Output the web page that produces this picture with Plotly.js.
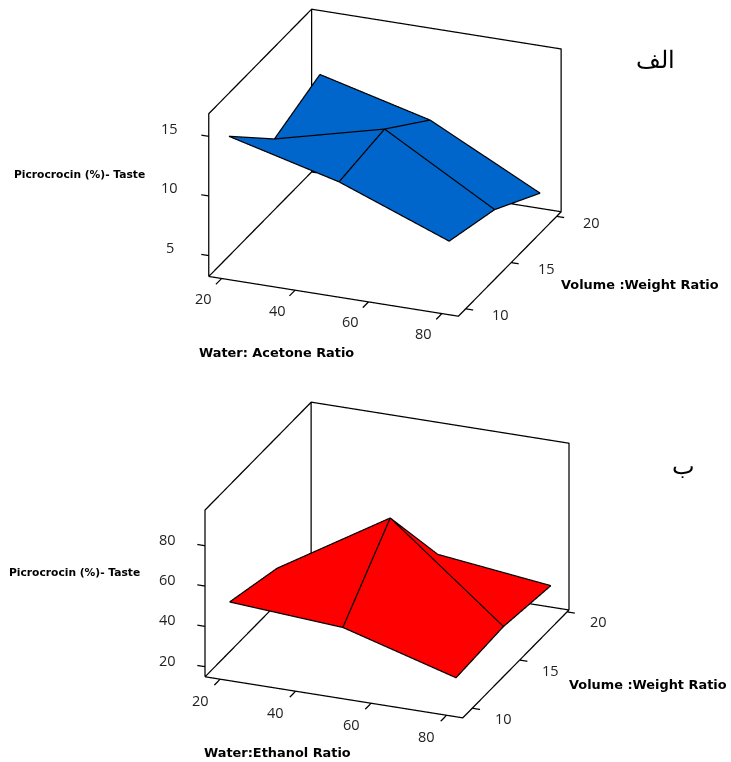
<!DOCTYPE html>
<html><head><meta charset="utf-8">
<script src="https://cdn.plot.ly/plotly-3.0.1.min.js"></script>
<style>html,body{margin:0;padding:0;background:#fff}#c{width:731px;height:762px}</style>
</head><body><div id="c"></div>
<script>
const ratioLevels=[20,50,80];
const volumeLevels=[10,15,20];
const acetoneTaste=[[14.5,12.15,8.65],[10.4,12.7,7.42],[11.93,9.58,4.92]];
const ethanolTaste=[[48.2,44.5,28.5],[41,74.9,30],[20,33,26.4]];
const xRange1=[16.5,84.5], yRange1=[9.2,20.5], zRange1=[3.25,16.9];
const xRange2=[16,84.3], yRange2=[9,20.2], zRange2=[15,97.7];
const xTicks=[20,40,60,80], yTicks=[10,15,20], zTicks1=[5,10,15], zTicks2=[20,40,60,80];

const LW=2.5;
function seg(scene,x,y,z){return {type:'scatter3d',mode:'lines',scene,showlegend:false,hoverinfo:'skip',line:{color:'#000',width:LW},x,y,z};}
function pad(r,p){const d=(r[1]-r[0])*p;return [r[0]-d,r[1]+d];}
function gridLines(z,zr,scene){
  const lift=(zr[1]-zr[0])*0.004, out=[];
  for(let j=0;j<3;j++) out.push(seg(scene,ratioLevels,volumeLevels.map(()=>volumeLevels[j]),z[j].map(v=>v+lift)));
  for(let i=0;i<3;i++) out.push(seg(scene,ratioLevels.map(()=>ratioLevels[i]),volumeLevels,z.map(r=>r[i]+lift)));
  return out;
}
function boxEdges(xr,yr,zr,scene){
  const [x0,x1]=xr,[y0,y1]=yr,[z0,z1]=zr;
  return [
    seg(scene,[x0,x1,x1,x0,x0],[y0,y0,y1,y1,y0],[z0,z0,z0,z0,z0]),
    seg(scene,[x0,x0,x0,x1,x1],[y0,y0,y1,y1,y1],[z0,z1,z1,z1,z0]),
    seg(scene,[x0,x0],[y1,y1],[z0,z1])
  ];
}
function tickMarks(xr,yr,zr,zt,scene){
  const dx=xr[1]-xr[0],dy=yr[1]-yr[0],out=[];
  xTicks.forEach(t=>out.push(seg(scene,[t,t],[yr[0],yr[0]-0.055*dy],[zr[0],zr[0]])));
  yTicks.forEach(t=>out.push(seg(scene,[xr[1],xr[1]+0.03*dx],[t,t],[zr[0],zr[0]])));
  zt.forEach(t=>out.push(seg(scene,[xr[0],xr[0]-0.03*dx],[yr[0],yr[0]],[t,t])));
  return out;
}
function mesh(zRows,color,scene){
  const x=[],y=[],z=[],i=[],j=[],k=[];
  zRows.forEach((row,r)=>row.forEach((v,c)=>{x.push(ratioLevels[c]);y.push(volumeLevels[r]);z.push(v);}));
  for(let r=0;r<2;r++)for(let c=0;c<2;c++){
    const a=r*3+c,b=a+1,d=a+3,e=a+4;
    i.push(a,b);j.push(b,e);k.push(d,d);
  }
  return {type:'mesh3d',x,y,z,i,j,k,scene,color,flatshading:true,showscale:false,hoverinfo:'skip',
    lighting:{ambient:1,diffuse:0,specular:0,fresnel:0,roughness:1}};
}
const tickFont={family:'Open Sans, Noto Sans, sans-serif',size:14.5,color:'#222'};
function tickLabels(xr,yr,zr,zt,xs,ys,zs){
  const a=(x,y,z,text,s)=>({x,y,z,text:String(text),showarrow:false,font:tickFont,xanchor:'center',yanchor:'middle',xshift:s[0],yshift:s[1]});
  return [
    ...xTicks.map(t=>a(t,yr[0],zr[0],t,xs)),
    ...yTicks.map(t=>a(xr[1],t,zr[0],t,ys)),
    ...zt.map(t=>a(xr[0],yr[0],t,t,zs))
  ];
}
const axBase={showbackground:false,showgrid:false,zeroline:false,showspikes:false,showline:false,ticks:'',showticklabels:false,title:{text:''},showaxeslabels:false,autorange:false};
function scene(xr,yr,zr,zt,dom,asp,cz,labels){
  const norm=2.2;
  return {domain:dom,aspectmode:'manual',aspectratio:asp,annotations:labels,
    camera:{projection:{type:'orthographic'},eye:{x:0.335*norm,y:-0.846*norm,z:0.40*norm+cz},center:{x:0,y:0,z:cz},up:{x:0,y:0,z:1}},
    xaxis:{...axBase,range:pad(xr,0.06),tickvals:xTicks},
    yaxis:{...axBase,range:pad(yr,0.06),tickvals:yTicks},
    zaxis:{...axBase,range:pad(zr,0.004),tickvals:zt}};
}
const data=[
  mesh(acetoneTaste,'#0066CC','scene'),...gridLines(acetoneTaste,zRange1,'scene'),...boxEdges(xRange1,yRange1,zRange1,'scene'),...tickMarks(xRange1,yRange1,zRange1,zTicks1,'scene'),
  mesh(ethanolTaste,'#FF0000','scene2'),...gridLines(ethanolTaste,zRange2,'scene2'),...boxEdges(xRange2,yRange2,zRange2,'scene2'),...tickMarks(xRange2,yRange2,zRange2,zTicks2,'scene2')
];
const boldFont={family:'DejaVu Sans, sans-serif',size:12.9,color:'#000'};
function note(text,px,py,font){
  return {text,xref:'paper',yref:'paper',x:px/731,y:1-py/762,xanchor:'center',yanchor:'middle',showarrow:false,font};
}
const layout={width:731,height:762,margin:{l:0,r:0,t:0,b:0},paper_bgcolor:'#fff',showlegend:false,
  scene:scene(xRange1,yRange1,zRange1,zTicks1,{x:[100/731,670/731],y:[1-345/762,1]},{x:1.743,y:1.813,z:1.039},-0.062,
    tickLabels(xRange1,yRange1,zRange1,zTicks1,[-18,-20],[35,-6],[-39,8])),
  scene2:scene(xRange2,yRange2,zRange2,zTicks2,{x:[99/731,675/731],y:[1-740/762,1-380/762]},{x:1.725,y:1.794,z:1.02},0,
    tickLabels(xRange2,yRange2,zRange2,zTicks2,[-20,-21],[31,-10],[-38,6.5])),
  annotations:[
    note('<b>Picrocrocin (%)- Taste</b>',79,174,{...boldFont,size:10.7}),
    note('<b>Volume :Weight Ratio</b>',640,284,boldFont),
    note('<b>Water: Acetone Ratio</b>',276,352,boldFont),
    note('<b>Picrocrocin (%)- Taste</b>',74,572,{...boldFont,size:10.7}),
    note('<b>Volume :Weight Ratio</b>',648,684,boldFont),
    note('<b>Water:Ethanol Ratio</b>',277,752,boldFont),
    note('الف',655,60,{family:'Liberation Serif, DejaVu Serif, serif',size:24,color:'#000'}),
    note('ب',683,466,{family:'Liberation Serif, DejaVu Serif, serif',size:24,color:'#000'})
  ]};
Plotly.newPlot('c',data,layout,{displayModeBar:false});
</script></body></html>
